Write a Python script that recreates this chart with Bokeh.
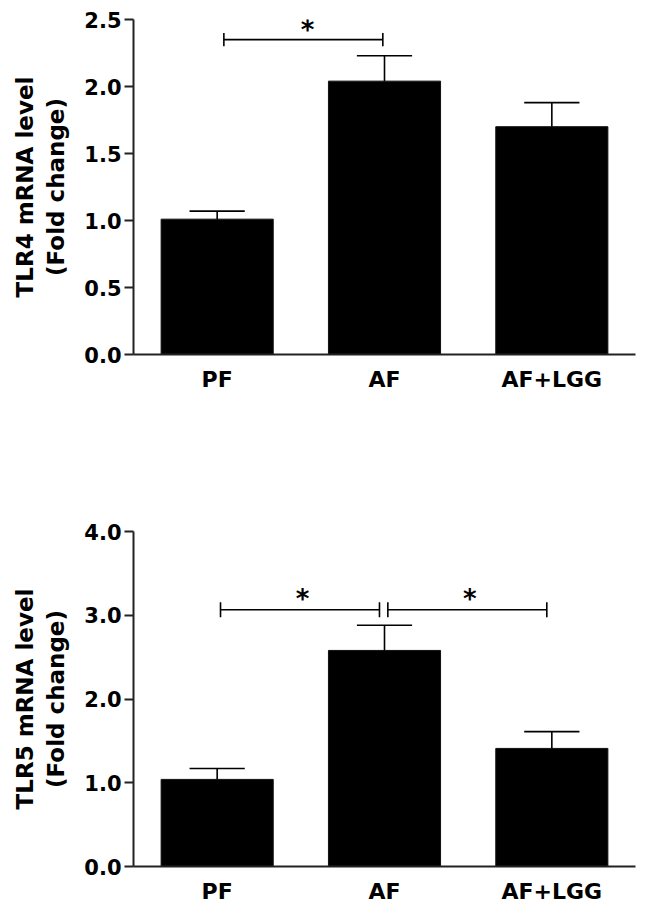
from bokeh.plotting import figure
from bokeh.models import Range1d, FixedTicker, ColumnDataSource
from bokeh.layouts import column
from bokeh.embed import file_html
from bokeh.resources import INLINE
from bokeh.core.properties import value

# ---------------- data ----------------
groups = ["PF", "AF", "AF+LGG"]
group_x = [0.5, 1.5, 2.5]

tlr4_mean = [1.01, 2.04, 1.70]
tlr4_sem = [0.06, 0.19, 0.18]
tlr4_ticks = [0.0, 0.5, 1.0, 1.5, 2.0, 2.5]
tlr4_ylim = [0.0, 2.5]
tlr4_label = "TLR4 mRNA level\n(Fold change)"
# significance brackets: x0, x1, y ; stars: x, y
tlr4_br_x0 = [0.54]
tlr4_br_x1 = [1.49]
tlr4_br_y = [2.35]
tlr4_star_x = [1.04]
tlr4_star_y = [2.42]

tlr5_mean = [1.04, 2.58, 1.41]
tlr5_sem = [0.13, 0.30, 0.20]
tlr5_ticks = [0.0, 1.0, 2.0, 3.0, 4.0]
tlr5_ylim = [0.0, 4.0]
tlr5_label = "TLR5 mRNA level\n(Fold change)"
tlr5_br_x0 = [0.52, 1.52]
tlr5_br_x1 = [1.47, 2.47]
tlr5_br_y = [3.065, 3.065]
tlr5_star_x = [1.01, 2.01]
tlr5_star_y = [3.19, 3.19]

FONT = "DejaVu Sans"


def panel(mean, sem, ticks, ylim, label, bx0, bx1, by, sx, sy, tick_h,
          height, border_top, border_bottom):
    p = figure(width=639, height=height, output_backend="svg",
               toolbar_location=None, x_range=Range1d(0, 3),
               y_range=Range1d(*ylim), min_border_left=133,
               min_border_right=4, min_border_top=border_top,
               min_border_bottom=border_bottom)
    p.outline_line_color = None
    p.grid.visible = False
    p.background_fill_color = "white"

    src = ColumnDataSource(dict(x=group_x, top=mean,
                                upper=[m + s for m, s in zip(mean, sem)]))
    p.vbar(x="x", top="top", bottom=0, width=0.67, source=src,
           fill_color="black", line_color="#111111", line_width=1)
    p.segment(x0="x", y0="top", x1="x", y1="upper", source=src,
              line_color="black", line_width=1.6)
    cap_l = [x - 0.165 for x in group_x]
    cap_r = [x + 0.165 for x in group_x]
    p.segment(x0=cap_l, y0=src.data["upper"], x1=cap_r,
              y1=src.data["upper"], line_color="black", line_width=1.6)

    # brackets
    p.segment(x0=bx0, y0=by, x1=bx1, y1=by, line_color="black",
              line_width=1.6)
    p.segment(x0=bx0, y0=[y - tick_h for y in by], x1=bx0,
              y1=[y + tick_h for y in by], line_color="black", line_width=1.6)
    p.segment(x0=bx1, y0=[y - tick_h for y in by], x1=bx1,
              y1=[y + tick_h for y in by], line_color="black", line_width=1.6)
    p.text(x=sx, y=sy, text=["*"] * len(sx), text_font=value(FONT),
           text_font_style="bold", text_font_size="26px",
           text_align="center", text_baseline="middle", text_color="black")

    # y axis
    ya = p.yaxis[0]
    ya.ticker = FixedTicker(ticks=ticks)
    ya.major_label_overrides = {t: f"{t:.1f}" for t in ticks}
    ya.minor_tick_line_color = None
    ya.major_tick_out = 9
    ya.major_tick_in = 0
    ya.major_tick_line_width = 2
    ya.major_tick_line_color = "#222222"
    ya.axis_line_width = 2
    ya.axis_line_color = "#222222"
    ya.major_label_standoff = 3
    ya.major_label_text_font = FONT
    ya.major_label_text_font_style = "bold"
    ya.major_label_text_font_size = "21px"
    ya.major_label_text_color = "black"
    ya.axis_label = label
    ya.axis_label_text_font = FONT
    ya.axis_label_text_font_style = "bold"
    ya.axis_label_text_font_size = "23px"
    ya.axis_label_text_color = "black"
    ya.axis_label_standoff = 12

    # x axis
    xa = p.xaxis[0]
    xa.ticker = FixedTicker(ticks=group_x)
    xa.major_label_overrides = {x: g for x, g in zip(group_x, groups)}
    xa.minor_tick_line_color = None
    xa.major_tick_out = 0
    xa.major_tick_in = 0
    xa.axis_line_width = 2
    xa.axis_line_color = "#222222"
    xa.major_label_standoff = 12
    xa.major_label_text_font = FONT
    xa.major_label_text_font_style = "bold"
    xa.major_label_text_font_size = "22px"
    xa.major_label_text_color = "black"
    return p


p1 = panel(tlr4_mean, tlr4_sem, tlr4_ticks, tlr4_ylim, tlr4_label,
           tlr4_br_x0, tlr4_br_x1, tlr4_br_y, tlr4_star_x, tlr4_star_y,
           0.05, 450, 19, 96)
p2 = panel(tlr5_mean, tlr5_sem, tlr5_ticks, tlr5_ylim, tlr5_label,
           tlr5_br_x0, tlr5_br_x1, tlr5_br_y, tlr5_star_x, tlr5_star_y,
           0.09, 456, 81, 40)

layout = column(p1, p2)
open("out.html", "w").write(file_html(layout, INLINE))
